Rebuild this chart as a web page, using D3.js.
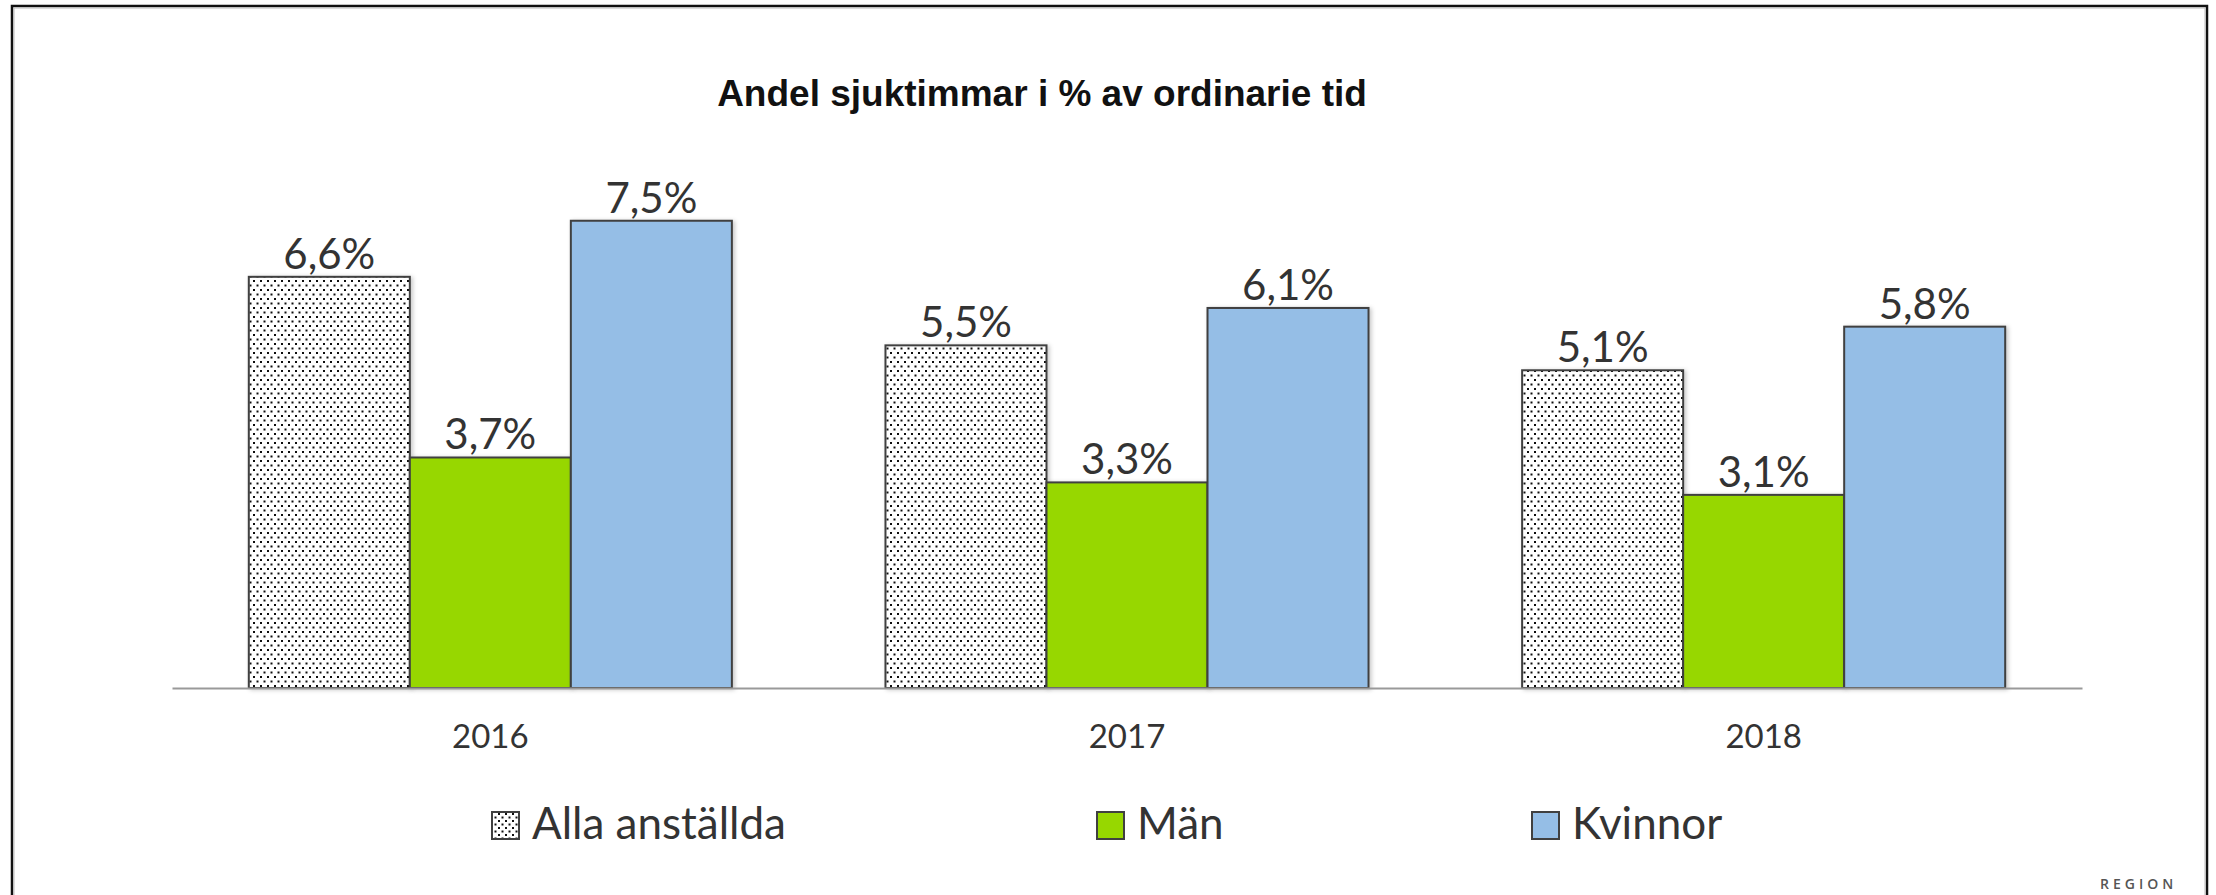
<!DOCTYPE html>
<html>
<head>
<meta charset="utf-8">
<script src="https://cdn.jsdelivr.net/npm/d3@7"></script>
<style>
  html, body { margin: 0; padding: 0; background: #fff; overflow: hidden; }
  svg { display: block; }
</style>
</head>
<body>
<svg id="chart" width="2216" height="895"></svg>
<script>
// ---- data ----
const title = "Andel sjuktimmar i % av ordinarie tid";
const categories = ["2016", "2017", "2018"];
const seriesNames = ["Alla anställda", "Män", "Kvinnor"];
const allaValues = [6.6, 5.5, 5.1];
const manValues = [3.7, 3.3, 3.1];
const kvinnorValues = [7.5, 6.1, 5.8];
const valueLabels = [
  ["6,6%", "5,5%", "5,1%"],
  ["3,7%", "3,3%", "3,1%"],
  ["7,5%", "6,1%", "5,8%"]
];
const footerText = "REGION";

// ---- layout ----
const svg = d3.select("#chart");
const seriesValues = [allaValues, manValues, kvinnorValues];
const fills = ["url(#dots)", "#97D700", "#95BEE6"];
const labelFont = "Lato, 'Open Sans', sans-serif";

const defs = svg.append("defs");
const pat = defs.append("pattern").attr("id", "dots")
  .attr("patternUnits", "userSpaceOnUse").attr("width", 7).attr("height", 9);
pat.append("rect").attr("width", 7).attr("height", 9).attr("fill", "#fff");
pat.append("rect").attr("x", 1).attr("y", 1).attr("width", 2).attr("height", 2).attr("fill", "#111");
pat.append("rect").attr("x", 4.5).attr("y", 5.5).attr("width", 2).attr("height", 2).attr("fill", "#111");
const legPat = defs.append("pattern").attr("id", "dotsSmall")
  .attr("patternUnits", "userSpaceOnUse").attr("width", 7).attr("height", 7);
legPat.append("rect").attr("width", 7).attr("height", 7).attr("fill", "#fff");
legPat.append("rect").attr("x", 1).attr("y", 1).attr("width", 2).attr("height", 2).attr("fill", "#111");
legPat.append("rect").attr("x", 4.5).attr("y", 4.5).attr("width", 2).attr("height", 2).attr("fill", "#111");

const shadow = defs.append("filter").attr("id", "shadow")
  .attr("x", "-10%").attr("y", "-10%").attr("width", "130%").attr("height", "130%");
shadow.append("feDropShadow").attr("dx", 2).attr("dy", 1).attr("stdDeviation", 2)
  .attr("flood-color", "#000").attr("flood-opacity", 0.22);

// outer frame
svg.append("rect").attr("x", 12).attr("y", 6).attr("width", 2195).attr("height", 920)
  .attr("fill", "none").attr("stroke", "#111").attr("stroke-width", 2.5);
svg.append("rect").attr("x", 14).attr("y", 8).attr("width", 2191).attr("height", 920)
  .attr("fill", "none").attr("stroke", "#bbb").attr("stroke-width", 1);

// title
svg.append("text").attr("x", 1042).attr("y", 106)
  .attr("text-anchor", "middle")
  .attr("font-family", "'Liberation Sans', Arial, sans-serif")
  .attr("font-weight", "bold").attr("font-size", 37).attr("fill", "#111")
  .text(title);

// scales
const axisY = 688;
const x0 = d3.scaleBand().domain(categories).range([172, 2082]).paddingInner(0).paddingOuter(0);
const x1 = d3.scaleBand().domain(seriesNames).range([0, x0.bandwidth()]).paddingInner(0).paddingOuter(0.477);
const y = d3.scaleLinear().domain([0, 8]).range([axisY, axisY - 8 * 62.3]);

// bars
const data = [];
categories.forEach((c, i) => {
  seriesNames.forEach((s, j) => {
    data.push({ cat: c, ser: s, j, v: seriesValues[j][i], label: valueLabels[j][i] });
  });
});

const g = svg.append("g");
g.selectAll("rect.bar").data(data).enter().append("rect")
  .attr("class", "bar")
  .attr("x", d => x0(d.cat) + x1(d.ser))
  .attr("y", d => y(d.v))
  .attr("width", x1.bandwidth())
  .attr("height", d => y(0) - y(d.v))
  .attr("fill", d => fills[d.j])
  .attr("stroke", "#404040").attr("stroke-width", 2)
  .attr("filter", "url(#shadow)");

// axis line (x axis via d3)
const xAxis = d3.axisBottom(x0).tickSize(0).tickPadding(0);
const axG = svg.append("g").attr("transform", `translate(0,${axisY})`).call(xAxis);
axG.select(".domain").attr("stroke", "#999").attr("stroke-width", 2);
axG.selectAll(".tick text")
  .attr("font-family", labelFont).attr("font-size", 33).attr("fill", "#333")
  .attr("dy", null).attr("y", 60);

// value labels
g.selectAll("text.val").data(data).enter().append("text")
  .attr("class", "val")
  .attr("x", d => x0(d.cat) + x1(d.ser) + x1.bandwidth() / 2)
  .attr("y", d => y(d.v) - 8)
  .attr("text-anchor", "middle")
  .attr("font-family", labelFont).attr("font-size", 42).attr("fill", "#333")
  .text(d => d.label);

// legend
const legX = [492, 1097, 1532];
const legSw = ["url(#dotsSmall)", "#97D700", "#95BEE6"];
const leg = svg.append("g");
seriesNames.forEach((s, j) => {
  leg.append("rect").attr("x", legX[j]).attr("y", 812).attr("width", 27).attr("height", 27)
    .attr("fill", legSw[j]).attr("stroke", "#404040").attr("stroke-width", 2);
  leg.append("text").attr("x", legX[j] + 40).attr("y", 839)
    .attr("font-family", labelFont).attr("font-size", 44).attr("fill", "#333")
    .text(s);
});

// footer
svg.append("text").attr("x", 2100).attr("y", 889)
  .attr("font-family", "'Open Sans', sans-serif").attr("font-weight", 600)
  .attr("font-size", 14).attr("letter-spacing", 4).attr("fill", "#555")
  .text(footerText);
</script>
</body>
</html>
